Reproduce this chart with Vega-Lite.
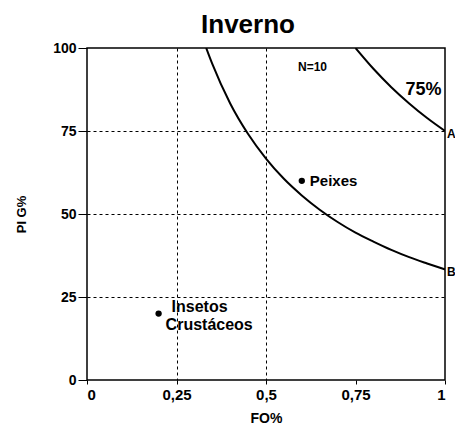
{
  "$schema": "https://vega.github.io/schema/vega-lite/v6.json",
  "width": 358,
  "height": 332,
  "autosize": "none",
  "padding": {"left": 87, "top": 48, "right": 10, "bottom": 51},
  "background": "white",
  "title": {"text": "Inverno", "fontSize": 26, "font": "Liberation Sans", "fontWeight": "bold", "color": "black", "dx": -18, "offset": 3},
  "config": {
    "view": {"stroke": "black", "strokeWidth": 1.5},
    "font": "Liberation Sans"
  },
  "datasets": {
    "curves": [
      {"curve": "B", "fo": 0.333, "pig": 100},
      {"curve": "B", "fo": 0.35, "pig": 95.2},
      {"curve": "B", "fo": 0.4, "pig": 83.3},
      {"curve": "B", "fo": 0.45, "pig": 74.1},
      {"curve": "B", "fo": 0.5, "pig": 66.7},
      {"curve": "B", "fo": 0.55, "pig": 60.6},
      {"curve": "B", "fo": 0.6, "pig": 55.6},
      {"curve": "B", "fo": 0.65, "pig": 51.3},
      {"curve": "B", "fo": 0.7, "pig": 47.6},
      {"curve": "B", "fo": 0.75, "pig": 44.4},
      {"curve": "B", "fo": 0.8, "pig": 41.7},
      {"curve": "B", "fo": 0.85, "pig": 39.2},
      {"curve": "B", "fo": 0.9, "pig": 37.0},
      {"curve": "B", "fo": 0.95, "pig": 35.1},
      {"curve": "B", "fo": 1.0, "pig": 33.3},
      {"curve": "A", "fo": 0.75, "pig": 100},
      {"curve": "A", "fo": 0.8, "pig": 93.75},
      {"curve": "A", "fo": 0.85, "pig": 88.2},
      {"curve": "A", "fo": 0.9, "pig": 83.3},
      {"curve": "A", "fo": 0.95, "pig": 78.9},
      {"curve": "A", "fo": 1.0, "pig": 75}
    ],
    "points": [
      {"item": "Peixes", "fo": 0.6, "pig": 60},
      {"item": "Insetos", "fo": 0.2, "pig": 20}
    ],
    "ends": [
      {"label": "A", "fo": 1.0, "pig": 75},
      {"label": "B", "fo": 1.0, "pig": 33.3}
    ]
  },
  "encoding": {
    "x": {
      "field": "fo", "type": "quantitative",
      "scale": {"domain": [0, 1], "nice": false, "zero": false},
      "axis": {
        "values": [0, 0.25, 0.5, 0.75, 1],
        "labelExpr": "replace(format(datum.value, ''), '.', ',')",
        "title": "FO%", "titleFontSize": 14, "titleFontWeight": "bold", "titleColor": "black", "titlePadding": 9,
        "labelFontSize": 15, "labelFontWeight": "bold", "labelColor": "black", "labelPadding": 3,
        "domain": false, "ticks": true, "tickColor": "black", "tickSize": 4,
        "grid": true, "gridColor": "black", "gridDash": [3, 3], "gridWidth": 1,
        "gridOpacity": {"condition": {"test": "datum.value == 0.75 || datum.value == 0 || datum.value == 1", "value": 0}, "value": 1}
      }
    },
    "y": {
      "field": "pig", "type": "quantitative",
      "scale": {"domain": [0, 100], "nice": false},
      "axis": {
        "values": [0, 25, 50, 75, 100],
        "title": "PI G%", "titleFontSize": 13, "titleFontWeight": "bold", "titleColor": "black", "titlePadding": 24,
        "labelFontSize": 14, "labelFontWeight": "bold", "labelColor": "black", "labelPadding": 2,
        "domain": false, "ticks": true, "tickColor": "black", "tickSize": 9,
        "grid": true, "gridColor": "black", "gridDash": [3, 3], "gridWidth": 1,
        "gridOpacity": {"condition": {"test": "datum.value == 0 || datum.value == 100", "value": 0}, "value": 1}
      }
    }
  },
  "layer": [
    {
      "data": {"name": "curves"},
      "mark": {"type": "line", "color": "black", "strokeWidth": 2, "interpolate": "monotone", "clip": true},
      "encoding": {"detail": {"field": "curve"}}
    },
    {
      "data": {"name": "points"},
      "mark": {"type": "point", "filled": true, "color": "black", "size": 40, "opacity": 1}
    },
    {
      "data": {"values": [{"t": "Peixes", "fo": 0.6, "pig": 60}]},
      "mark": {"type": "text", "align": "left", "baseline": "middle", "dx": 8, "fontSize": 15, "letterSpacing": 1.2, "fontWeight": "bold", "color": "black"},
      "encoding": {"text": {"field": "t"}}
    },
    {
      "data": {"values": [{"t": "Insetos", "fo": 0.2, "pig": 20}]},
      "mark": {"type": "text", "align": "left", "baseline": "middle", "dx": 13, "dy": -7, "fontSize": 16, "letterSpacing": 2, "fontWeight": "bold", "color": "black"},
      "encoding": {"text": {"field": "t"}}
    },
    {
      "data": {"values": [{"t": "Crustáceos", "fo": 0.2, "pig": 20}]},
      "mark": {"type": "text", "align": "left", "baseline": "middle", "dx": 7, "dy": 11, "fontSize": 16, "letterSpacing": 2, "fontWeight": "bold", "color": "black"},
      "encoding": {"text": {"field": "t"}}
    },
    {
      "data": {"values": [{"t": "N=10", "fo": 0.63, "pig": 94.3}]},
      "mark": {"type": "text", "align": "center", "baseline": "middle", "fontSize": 12, "letterSpacing": 1, "fontWeight": "bold", "color": "black"},
      "encoding": {"text": {"field": "t"}}
    },
    {
      "data": {"values": [{"t": "75%", "fo": 0.94, "pig": 87.3}]},
      "mark": {"type": "text", "align": "center", "baseline": "middle", "fontSize": 18, "fontWeight": "bold", "color": "black"},
      "encoding": {"text": {"field": "t"}}
    },
    {
      "data": {"name": "ends"},
      "mark": {"type": "text", "align": "left", "baseline": "top", "dx": 2, "dy": -2, "fontSize": 12, "fontWeight": "bold", "color": "black"},
      "encoding": {"text": {"field": "label"}}
    }
  ]
}
